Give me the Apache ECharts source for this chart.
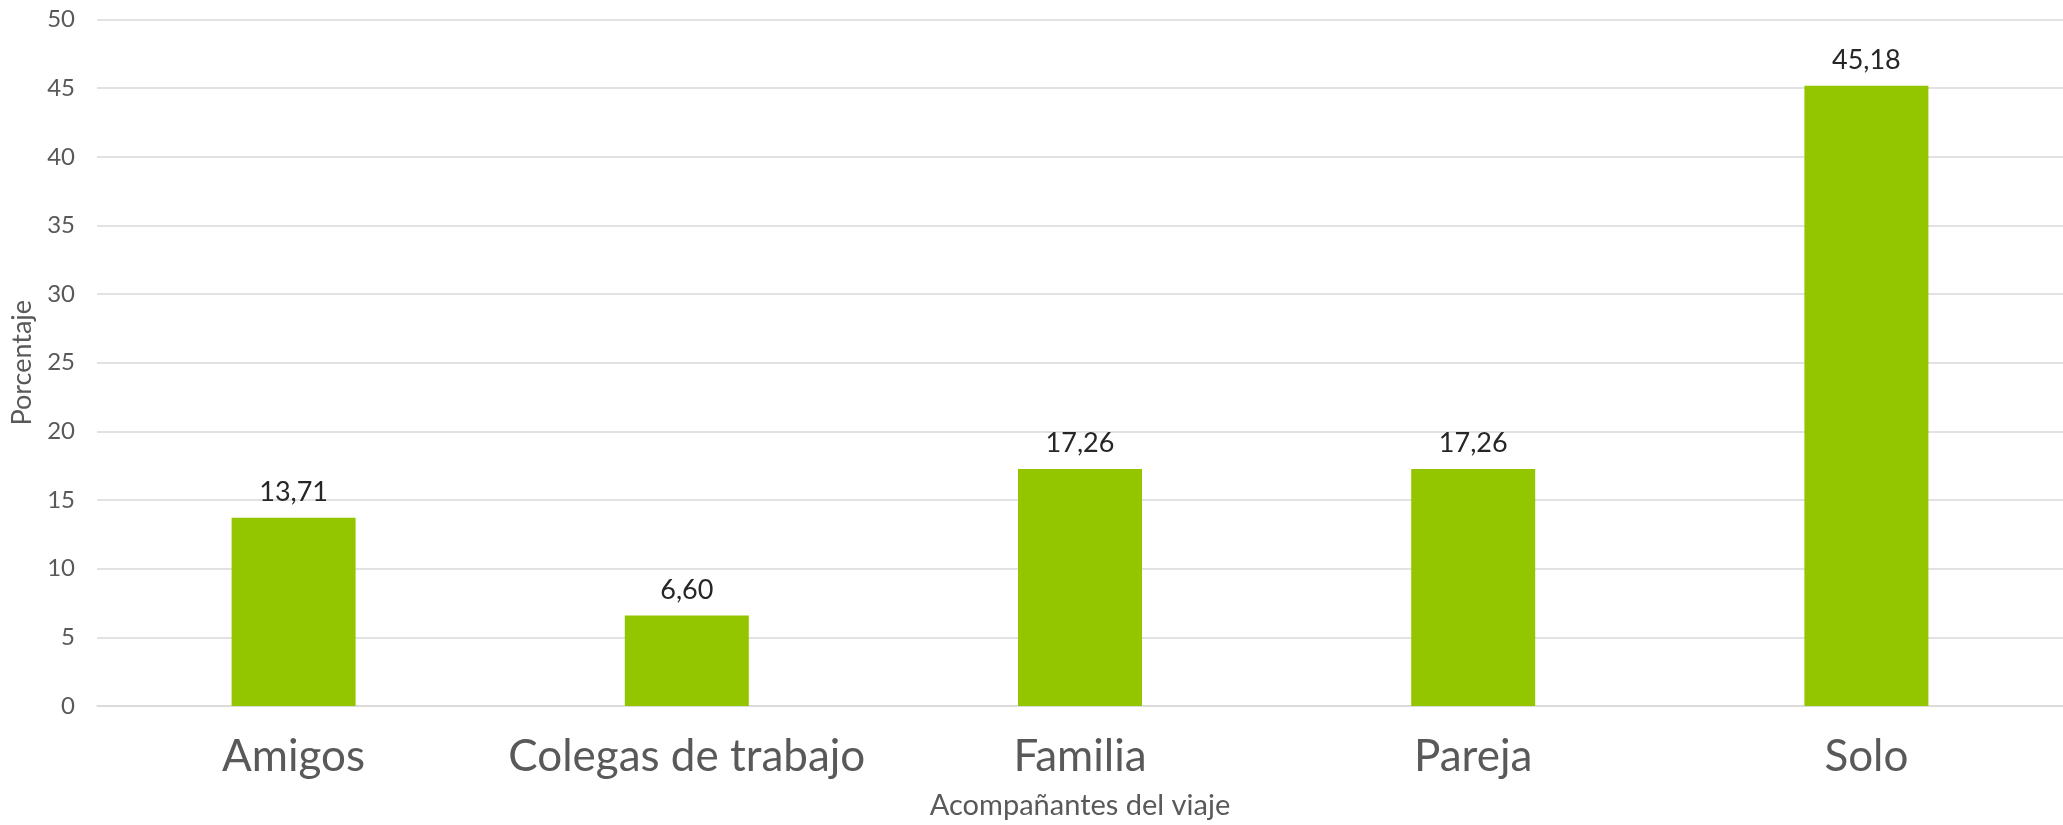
<!DOCTYPE html>
<html>
<head>
<meta charset="utf-8">
<script src="https://cdn.jsdelivr.net/npm/echarts@6/dist/echarts.min.js"></script>
<style>html,body{margin:0;padding:0;background:#fff}#c{width:2063px;height:825px}</style>
</head>
<body>
<div id="c"></div>
<script>
const categories = ["Amigos", "Colegas de trabajo", "Familia", "Pareja", "Solo"];
const values = [13.71, 6.60, 17.26, 17.26, 45.18];
const xAxisTitle = "Acompañantes del viaje";
const yAxisTitle = "Porcentaje";

const FONT = "Lato, 'Open Sans', sans-serif";
const chart = echarts.init(document.getElementById('c'), null, {renderer: 'canvas'});
chart.setOption({
  animation: false,
  backgroundColor: '#ffffff',
  grid: {left: 97, width: 1970, top: 19.5, bottom: 116, containLabel: false},
  xAxis: {
    type: 'category',
    data: categories,
    name: xAxisTitle,
    nameLocation: 'middle',
    nameGap: 85,
    nameTextStyle: {fontFamily: FONT, fontSize: 29, color: '#595959', lineHeight: 29},
    axisLine: {show: true, lineStyle: {color: '#D9D9D9', width: 1.5}},
    axisTick: {show: false},
    axisLabel: {fontFamily: FONT, fontSize: 44, color: '#595959', margin: 29, lineHeight: 44, interval: 0}
  },
  yAxis: {
    type: 'value',
    min: 0, max: 50, interval: 5,
    name: yAxisTitle,
    nameLocation: 'middle',
    nameGap: 58,
    nameTextStyle: {fontFamily: FONT, fontSize: 27, color: '#595959'},
    axisLine: {show: false},
    axisTick: {show: false},
    axisLabel: {fontFamily: FONT, fontSize: 24, color: '#595959', margin: 22},
    splitLine: {lineStyle: {color: '#D9D9D9', width: 1.5}}
  },
  series: [{
    type: 'bar',
    data: values,
    barWidth: 124,
    itemStyle: {color: '#94C600'},
    label: {
      show: true,
      position: 'top',
      distance: 12,
      fontFamily: FONT,
      fontSize: 27,
      color: '#262626',
      formatter: p => p.value.toFixed(2).replace('.', ',')
    }
  }]
});
</script>
</body>
</html>
